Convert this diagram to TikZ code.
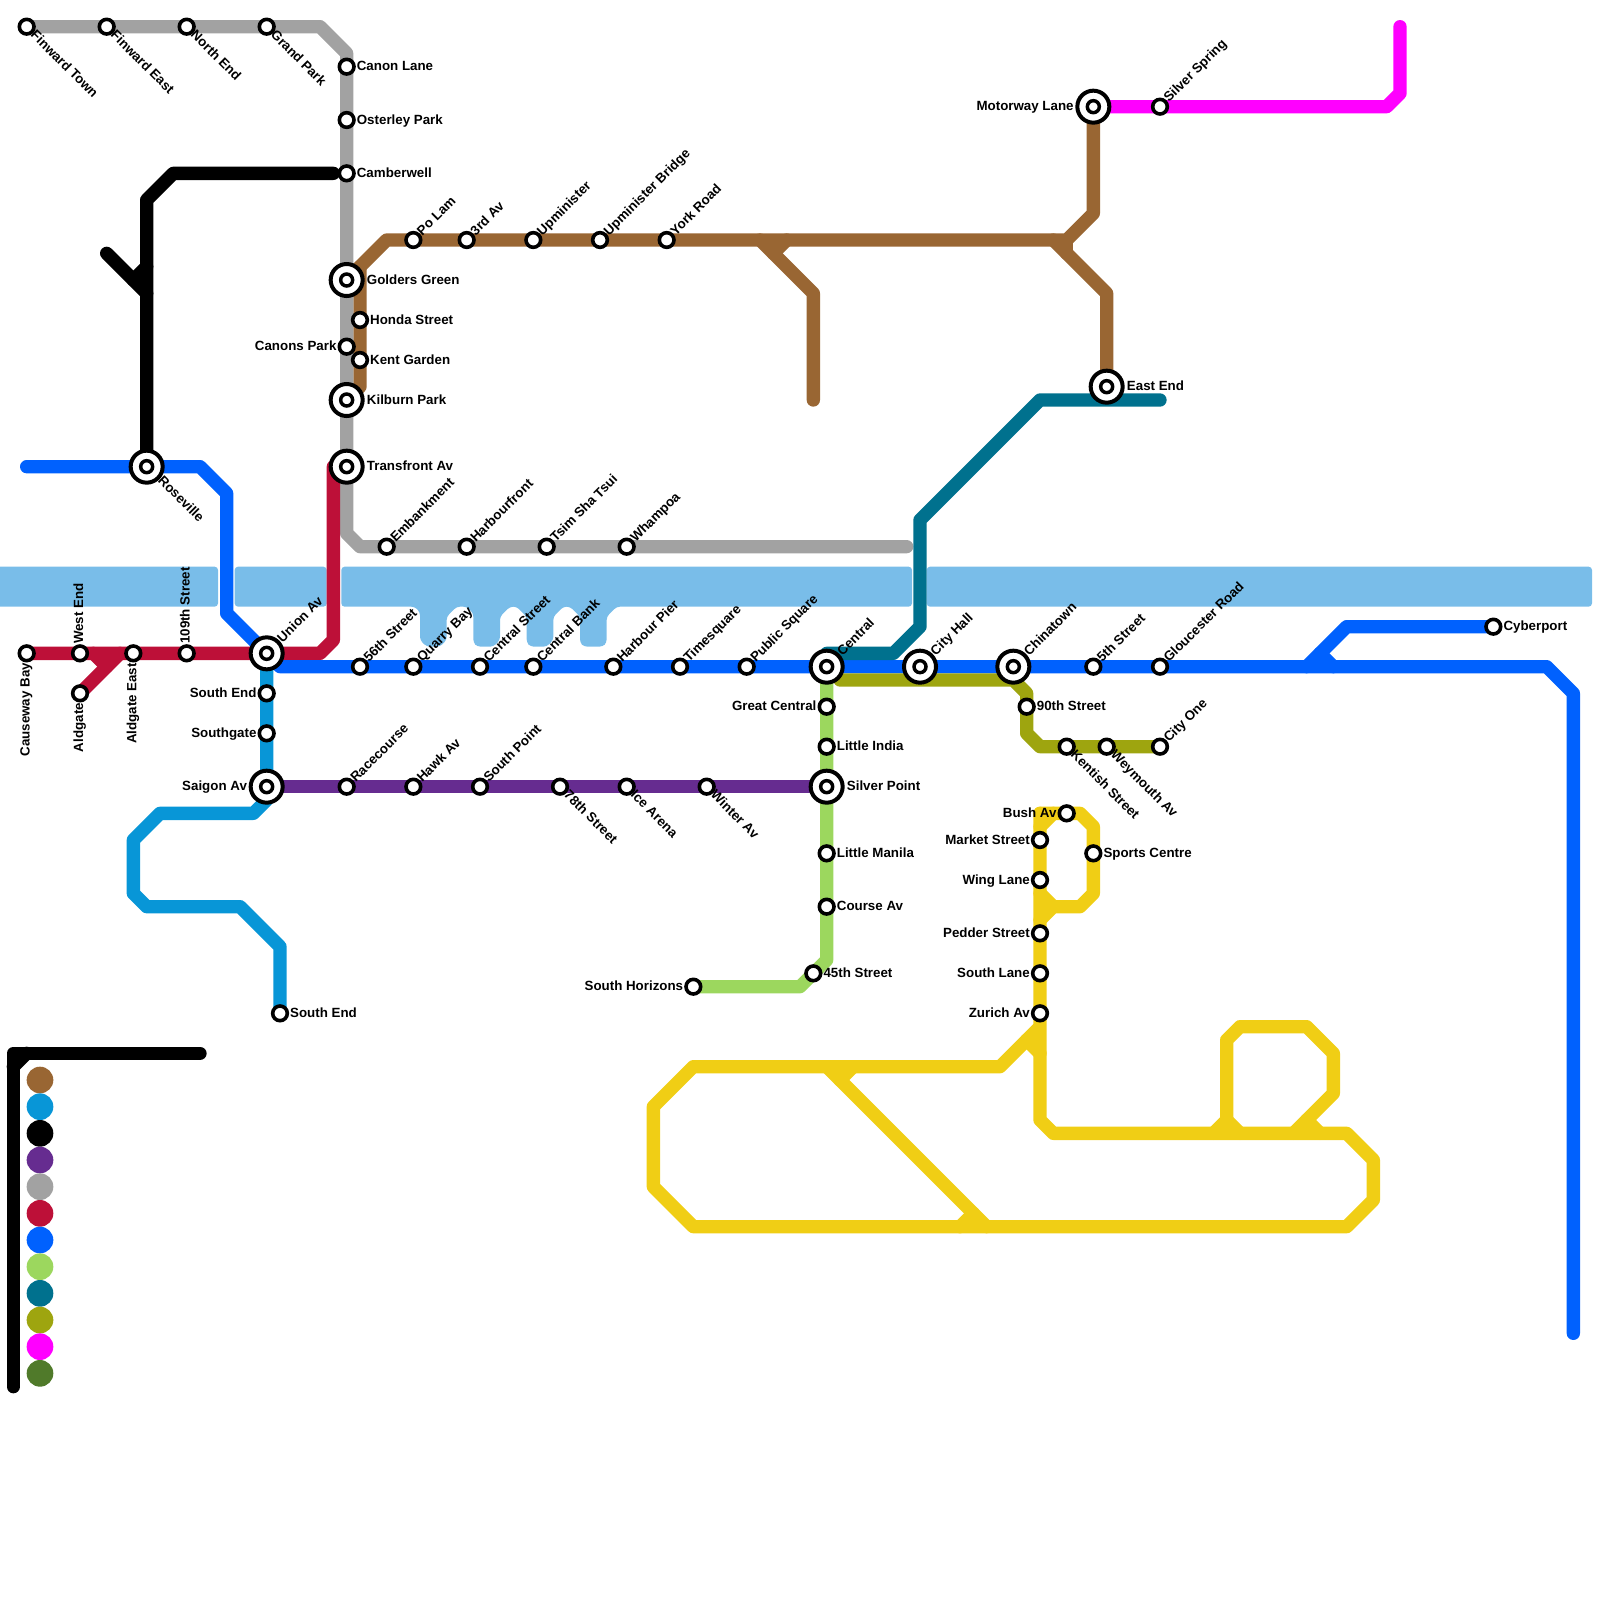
\documentclass[tikz,border=0pt]{standalone}
\usepackage{fontspec}
\setmainfont{Liberation Sans}
\usetikzlibrary{backgrounds}
\definecolor{mbrown}{HTML}{996633}
\definecolor{mcyan}{HTML}{0896D7}
\definecolor{mpurple}{HTML}{662C90}
\definecolor{mgrey}{HTML}{A2A2A2}
\definecolor{mred}{HTML}{BD1038}
\definecolor{mblue}{HTML}{0061FE}
\definecolor{mgreen}{HTML}{9CD75E}
\definecolor{mteal}{HTML}{00718E}
\definecolor{molive}{HTML}{9EA50F}
\definecolor{mpink}{HTML}{FF00FF}
\definecolor{mforest}{HTML}{507A2A}
\definecolor{myellow}{HTML}{F0CE15}
\definecolor{mwater}{HTML}{79BDE9}
\tikzset{
  stn/.style={circle,draw=black,fill=white,line width=2.7pt,minimum size=11pt,inner sep=0pt},
  hub/.style={stn,line width=3pt,minimum size=24pt,path picture={
    \draw[line width=2.6pt,fill=white] (path picture bounding box.center) circle (4.5pt);}},
  lab/.style={font=\bfseries\fontsize{10}{12}\selectfont,inner sep=2pt,text=black},
  tr/.style={lab,anchor=base west,xshift=-1.4pt,yshift=-3.1pt},
  tl/.style={lab,anchor=base east,xshift=1.4pt,yshift=-3.1pt},
  hr/.style={lab,anchor=base west,xshift=-0.5pt,yshift=-3.1pt},
  hl/.style={lab,anchor=base east,xshift=0.9pt,yshift=-3.1pt},
  tne/.style={lab,rotate=45,anchor=base west,xshift=-2.2pt,yshift=-2.8pt},
  hne/.style={lab,rotate=45,anchor=base west,xshift=-1.8pt,yshift=-3pt},
  tse/.style={lab,rotate=-45,anchor=base west,xshift=-2.4pt,yshift=-3.1pt},
  hse/.style={lab,rotate=-45,anchor=base west,xshift=-2.3pt,yshift=-2.1pt},
  tup/.style={lab,rotate=90,anchor=base west,xshift=-1.9pt,yshift=-2.3pt},
  tdn/.style={lab,rotate=90,anchor=base east,xshift=1.7pt,yshift=-2.3pt},
  metro/.style={line width=10pt,line cap=round,line join=round},
  water/.style={fill=mwater,rounded corners=2.5pt},
  dot/.style={circle,minimum size=20pt,inner sep=0pt},
}
\begin{document}
\begin{tikzpicture}[x=10pt,y=-10pt]
    \useasboundingbox (0,0) rectangle (120,120);
    % grey line
    \node[stn,label={[tse]-45:Finward Town}] (finwardtown) at (2,2) {};
    \node[stn,label={[tse]-45:Finward East}] (finwardeast) at (8,2) {};
    \node[stn,label={[tse]-45:North End}] (northend) at (14,2) {};
    \node[stn,label={[tse]-45:Grand Park}] (grandpark) at (20,2) {};
    \node[stn,label={[tr]0:Canon Lane}] (canonlane) at (26,5) {};
    \node[stn,label={[tr]0:Osterley Park}] (osterley) at (26,9) {};
    \node[stn,label={[tr]0:Camberwell}] (camberwell) at (26,13) {};
    \node[hub,label={[hr]0:Golders Green}] (golders) at (26,21) {};
    \node[stn,label={[tl]180:Canons Park}] (canons) at (26,26) {};
    \node[hub,label={[hr]0:Kilburn Park}] (kilburn) at (26,30) {};
    \node[hub,label={[hr]0:Transfront Av}] (transfront) at (26,35) {};
    \node[stn,label={[tne]45:Embankment}] (embankment) at (29,41) {};
    \node[stn,label={[tne]45:Harbourfront}] (harbourfront) at (35,41) {};
    \node[stn,label={[tne]45:Tsim Sha Tsui}] (tsimsha) at (41,41) {};
    \node[stn,label={[tne]45:Whampoa}] (whampoa) at (47,41) {};
    % brown line
    \node[stn,label={[tr]0:Honda Street}] (honda) at (27,24) {};
    \node[stn,label={[tr]0:Kent Garden}] (kent) at (27,27) {};
    \node[stn,label={[tne]45:Po Lam}] (polam) at (31,18) {};
    \node[stn,label={[tne]45:3rd Av}] (thirdav) at (35,18) {};
    \node[stn,label={[tne]45:Upminister}] (upminister) at (40,18) {};
    \node[stn,label={[tne]45:Upminister Bridge}] (upbridge) at (45,18) {};
    \node[stn,label={[tne]45:York Road}] (york) at (50,18) {};
    \node[hub,label={[hl]180:Motorway Lane}] (motorway) at (82,8) {};
    \node[stn,label={[tne]45:Silver Spring}] (silverspring) at (87,8) {};
    \node[hub,label={[hr]0:East End}] (eastend) at (83,29) {};
    % blue and red lines
    \node[hub,label={[hse]-45:Roseville}] (roseville) at (11,35) {};
    \node[stn,label={[tdn]-90:Causeway Bay}] (causeway) at (2,49) {};
    \node[stn,label={[tup]90:West End}] (westend) at (6,49) {};
    \node[stn,label={[tdn]-90:Aldgate}] (aldgate) at (6,52) {};
    \node[stn,label={[tdn]-90:Aldgate East}] (aldgateeast) at (10,49) {};
    \node[stn,label={[tup]90:109th Street}] (street109) at (14,49) {};
    \node[hub,label={[hne]45:Union Av}] (union) at (20,49) {};
    \node[stn,label={[tne]45:56th Street}] (street56) at (27,50) {};
    \node[stn,label={[tne]45:Quarry Bay}] (quarry) at (31,50) {};
    \node[stn,label={[tne]45:Central Street}] (centralst) at (36,50) {};
    \node[stn,label={[tne]45:Central Bank}] (centralbank) at (40,50) {};
    \node[stn,label={[tne]45:Harbour Pier}] (harbourpier) at (46,50) {};
    \node[stn,label={[tne]45:Timesquare}] (timesquare) at (51,50) {};
    \node[stn,label={[tne]45:Public Square}] (publicsq) at (56,50) {};
    \node[hub,label={[hne]45:Central}] (central) at (62,50) {};
    \node[hub,label={[hne]45:City Hall}] (cityhall) at (69,50) {};
    \node[hub,label={[hne]45:Chinatown}] (chinatown) at (76,50) {};
    \node[stn,label={[tne]45:5th Street}] (street5) at (82,50) {};
    \node[stn,label={[tne]45:Gloucester Road}] (gloucester) at (87,50) {};
    \node[stn,label={[tr]0:Cyberport}] (cyberport) at (112,47) {};
    % cyan and purple lines
    \node[stn,label={[tl]180:South End}] (southendn) at (20,52) {};
    \node[stn,label={[tl]180:Southgate}] (southgate) at (20,55) {};
    \node[hub,label={[hl]180:Saigon Av}] (saigon) at (20,59) {};
    \node[stn,label={[tr]0:South End}] (southends) at (21,76) {};
    \node[stn,label={[tne]45:Racecourse}] (racecourse) at (26,59) {};
    \node[stn,label={[tne]45:Hawk Av}] (hawk) at (31,59) {};
    \node[stn,label={[tne]45:South Point}] (southpoint) at (36,59) {};
    \node[stn,label={[tse]-45:78th Street}] (street78) at (42,59) {};
    \node[stn,label={[tse]-45:Ice Arena}] (icearena) at (47,59) {};
    \node[stn,label={[tse]-45:Winter Av}] (winter) at (53,59) {};
    % green line
    \node[stn,label={[tl]180:Great Central}] (greatcentral) at (62,53) {};
    \node[stn,label={[tr]0:Little India}] (littleindia) at (62,56) {};
    \node[hub,label={[hr]0:Silver Point}] (silverpoint) at (62,59) {};
    \node[stn,label={[tr]0:Little Manila}] (littlemanila) at (62,64) {};
    \node[stn,label={[tr]0:Course Av}] (course) at (62,68) {};
    \node[stn,label={[tr]0:45th Street}] (street45) at (61,73) {};
    \node[stn,label={[tl]180:South Horizons}] (horizons) at (52,74) {};
    % olive line
    \node[stn,label={[tr]0:90th Street}] (street90) at (77,53) {};
    \node[stn,label={[tse]-45:Kentish Street}] (kentish) at (80,56) {};
    \node[stn,label={[tse]-45:Weymouth Av}] (weymouth) at (83,56) {};
    \node[stn,label={[tne]45:City One}] (cityone) at (87,56) {};
    % yellow line
    \node[stn,label={[tl]180:Bush Av}] (bush) at (80,61) {};
    \node[stn,label={[tl]180:Market Street}] (market) at (78,63) {};
    \node[stn,label={[tr]0:Sports Centre}] (sports) at (82,64) {};
    \node[stn,label={[tl]180:Wing Lane}] (wing) at (78,66) {};
    \node[stn,label={[tl]180:Pedder Street}] (pedder) at (78,70) {};
    \node[stn,label={[tl]180:South Lane}] (southlane) at (78,73) {};
    \node[stn,label={[tl]180:Zurich Av}] (zurich) at (78,76) {};
    % free line ends
    \coordinate (greyend) at (68,41);
    \coordinate (blackend) at (25,13);
    \coordinate (blackspur) at (8,19);
    \coordinate (bluewest) at (2,35);
    \coordinate (blueend) at (118,100);
    \coordinate (tealend) at (87,30);
    \coordinate (brownspur) at (61,30);
    \coordinate (pinkend) at (105,2);
    \coordinate (keyline) at (15,79);
    % key
    \node[dot,fill=mbrown] (keybrown) at (3,81) {};
    \node[dot,fill=mcyan] (keycyan) at (3,83) {};
    \node[dot,fill=black] (keyblack) at (3,85) {};
    \node[dot,fill=mpurple] (keypurple) at (3,87) {};
    \node[dot,fill=mgrey] (keygrey) at (3,89) {};
    \node[dot,fill=mred] (keyred) at (3,91) {};
    \node[dot,fill=mblue] (keyblue) at (3,93) {};
    \node[dot,fill=mgreen] (keygreen) at (3,95) {};
    \node[dot,fill=mteal] (keyteal) at (3,97) {};
    \node[dot,fill=molive] (keyolive) at (3,99) {};
    \node[dot,fill=mpink] (keypink) at (3,101) {};
    \node[dot,fill=mforest] (keyforest) at (3,103) {};
    \begin{scope}[on background layer]
      % water
      \fill[water] (-0.3,42.5) rectangle (16.35,45.5);
      \fill[water] (17.6,42.5) rectangle (24.5,45.5);
      \fill[water] (25.6,42.5) -- (68.4,42.5) -- (68.4,45.5) -- (46.25,45.5) -- (45.5,46.25) -- (45.5,48.2) -- (45.2,48.5)
        -- (43.8,48.5) -- (43.5,48.2) -- (43.5,46.25) -- (42.75,45.5) -- (42.25,45.5) -- (41.5,46.25) -- (41.5,48) -- (41,48.5)
        -- (39.8,48.5) -- (39.5,48.2) -- (39.5,46.25) -- (38.75,45.5) -- (38.25,45.5) -- (37.5,46.25) -- (37.5,48) -- (37,48.5)
        -- (35.8,48.5) -- (35.5,48.2) -- (35.5,46) -- (35,45.5) -- (34.25,45.5) -- (33.5,46.25) -- (33.5,48) -- (33,48.5)
        -- (32,48.5) -- (31.5,48) -- (31.5,45.9) -- (31.1,45.5) -- (25.6,45.5) -- cycle;
      \fill[water] (69.5,42.5) rectangle (119.4,45.5);
      % brown
      \draw[metro,mbrown] (golders.center) -- (29,18) -- (80,18) -- (82,16) -- (motorway.center);
      \draw[metro,mbrown] (27,20) -- (27,29) -- (kilburn.center);
      \draw[metro,mbrown] (57,18) -- (61,22) -- (brownspur);
      \draw[metro,mbrown] (58,19) -- (59,18);
      \draw[metro,mbrown] (79,18) -- (83,22) -- (eastend.center);
      \draw[metro,mbrown] (80,18) -- (80,19);
      % cyan
      \draw[metro,mcyan] (union.center) -- (20,60) -- (19,61) -- (12,61) -- (10,63) -- (10,67) -- (11,68) -- (18,68) -- (21,71) -- (southends.center);
      % black
      \draw[metro,black] (blackend) -- (13,13) -- (11,15) -- (roseville.center);
      \draw[metro,black] (blackspur) -- (11,22);
      \draw[metro,black] (10,21) -- (11,20);
      \draw[metro,black] (keyline) -- (1,79) -- (1,104);
      \draw[metro,black] (1,80) -- (2,79);
      % purple
      \draw[metro,mpurple] (saigon.center) -- (silverpoint.center);
      % grey
      \draw[metro,mgrey] (finwardtown.center) -- (24,2) -- (26,4) -- (26,40) -- (27,41) -- (greyend);
      % red
      \draw[metro,mred] (causeway.center) -- (24,49) -- (25,48) -- (25,35) -- (transfront.center);
      \draw[metro,mred] (aldgate.center) -- (9,49);
      \draw[metro,mred] (7,49) -- (8,50);
      % blue
      \draw[metro,mblue] (bluewest) -- (15,35) -- (17,37) -- (17,46) -- (union.center) -- (21,50) -- (116,50) -- (118,52) -- (blueend);
      \draw[metro,mblue] (98,50) -- (101,47) -- (cyberport.center);
      \draw[metro,mblue] (99,49) -- (100,50);
      % green
      \draw[metro,mgreen] (central.center) -- (62,72) -- (60,74) -- (horizons.center);
      % teal
      \draw[metro,mteal] (62,49) -- (67,49) -- (69,47) -- (69,39) -- (78,30) -- (tealend);
      % olive
      \draw[metro,molive] (63,51) -- (76,51) -- (77,52) -- (77,55) -- (78,56) -- (cityone.center);
      % pink
      \draw[metro,mpink] (motorway.center) -- (104,8) -- (105,7) -- (pinkend);
      % yellow
      \draw[metro,myellow] (78,61) -- (81,61) -- (82,62) -- (82,67) -- (81,68) -- (79,68) -- (78,69);
      \draw[metro,myellow] (78,62) -- (79,61);
      \draw[metro,myellow] (78,67) -- (79,68);
      \draw[metro,myellow] (78,61) -- (78,84) -- (79,85) -- (101,85) -- (103,87) -- (103,90) -- (101,92) -- (52,92) -- (49,89) -- (49,83) -- (52,80) -- (75,80) -- (78,77);
      \draw[metro,myellow] (77,78) -- (78,79);
      \draw[metro,myellow] (62,80) -- (74,92);
      \draw[metro,myellow] (63,81) -- (64,80);
      \draw[metro,myellow] (72,92) -- (73,91);
      \draw[metro,myellow] (91,85) -- (92,84) -- (93,85);
      \draw[metro,myellow] (92,84) -- (92,78) -- (93,77) -- (98,77) -- (100,79) -- (100,82) -- (97,85);
      \draw[metro,myellow] (98,84) -- (99,85);
    \end{scope}
  \end{tikzpicture}
\end{document}
